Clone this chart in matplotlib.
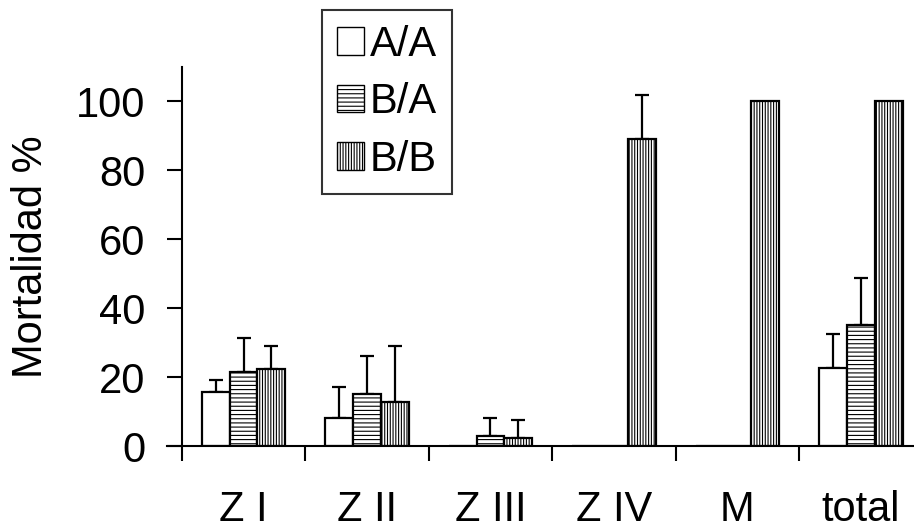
import numpy as np
import matplotlib.pyplot as plt
from matplotlib.patches import Patch

plt.rcParams['font.family'] = ['Liberation Sans', 'DejaVu Sans']
plt.rcParams['hatch.linewidth'] = 0.8

categorias = ['Z I', 'Z II', 'Z III', 'Z IV', 'M', 'total']
series = ['A/A', 'B/A', 'B/B']
aa = [15.8, 8.1, 0, 0, 0, 22.7]
aa_err = [3.4, 8.9, 0, 0, 0, 9.8]
ba = [21.5, 15.1, 3.0, 0, 0, 35.0]
ba_err = [9.9, 11.1, 5.0, 0, 0, 13.8]
bb = [22.3, 12.8, 2.3, 89.0, 100, 100]
bb_err = [6.7, 16.3, 5.3, 12.8, 0, 0]

valores = [aa, ba, bb]
errores = [aa_err, ba_err, bb_err]
tramas = ['', '----', '||||||']

fig = plt.figure(figsize=(9.14, 5.31), dpi=100)
ax = fig.add_axes([167/914, 85/531, 747/914, 379/531])

x = np.arange(len(categorias))
w = 0.225
for i in range(3):
    pos = x + (i - 1) * w
    ax.bar(pos, valores[i], w, color='white', edgecolor='black',
           linewidth=1.6, hatch=tramas[i], zorder=2)
    err = np.array(errores[i])
    mask = err > 0
    ax.errorbar(pos[mask], np.array(valores[i])[mask],
                yerr=[np.zeros(mask.sum()), err[mask]],
                fmt='none', ecolor='black', elinewidth=1.6,
                capsize=5, capthick=1.6, zorder=1)

ax.set_xlim(-0.62, 5.43)
ax.set_ylim(0, 110)
ax.spines['top'].set_visible(False)
ax.spines['right'].set_visible(False)
ax.spines['left'].set_position(('data', -0.5))
ax.spines['left'].set_linewidth(1.5)
ax.spines['bottom'].set_linewidth(1.5)

ax.set_yticks([0, 20, 40, 60, 80, 100])
ax.tick_params(axis='y', length=11, width=1.5, labelsize=30, pad=15)
ax.set_xticks(np.arange(-0.5, 5, 1))
ax.set_xticklabels([])
ax.tick_params(axis='x', which='major', length=11, width=1.5)
ax.set_xticks(x, minor=True)
ax.set_xticklabels(categorias, minor=True)
ax.tick_params(axis='x', which='minor', length=0, labelsize=30, pad=32)

ax.set_ylabel('Mortalidad %', fontsize=30, labelpad=18)

handles = [Patch(facecolor='white', edgecolor='black', hatch=t, linewidth=1)
           for t in tramas]
leg = fig.legend(handles, series, loc='upper left',
                 bbox_to_anchor=(322/914, 1 - 10/531), fontsize=30,
                 frameon=True, fancybox=False, edgecolor='black',
                 handlelength=0.65, handleheight=0.65, handletextpad=0.15,
                 labelspacing=0.42, borderpad=0.35, borderaxespad=0)
leg.get_frame().set_linewidth(1.5)

fig.savefig('out.png', dpi=100)
